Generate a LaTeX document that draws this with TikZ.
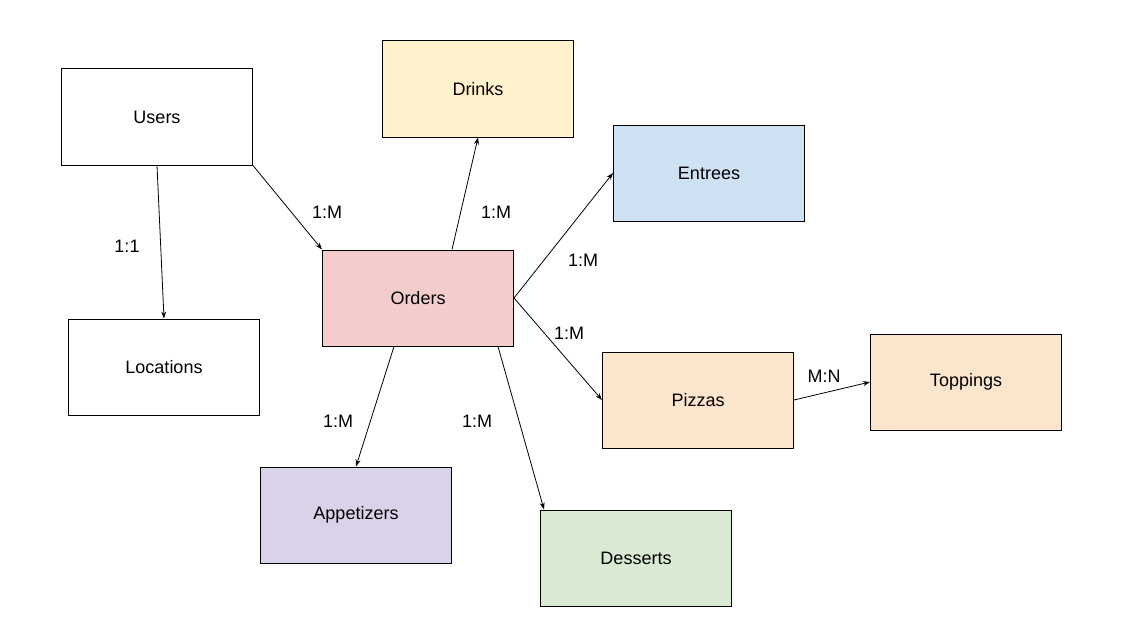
\documentclass[tikz,border=0pt]{standalone}
\usepackage{fontspec}
\setmainfont{Liberation Sans}
\usetikzlibrary{arrows.meta}
\definecolor{orderred}{HTML}{F4CCCC}
\definecolor{drinkyellow}{HTML}{FFF2CC}
\definecolor{entreeblue}{HTML}{CFE2F3}
\definecolor{pizzaorange}{HTML}{FCE5CD}
\definecolor{appetizerpurple}{HTML}{D9D2E9}
\definecolor{dessertgreen}{HTML}{D9EAD3}
\tikzset{
  entity/.style={draw=black, line width=1pt, minimum width=191pt, minimum height=96pt, inner sep=0pt},
  rel/.style={-{Stealth[length=7pt, width=5pt]}, line width=0.8pt},
  card/.style={inner sep=0pt}
}
\begin{document}
\begin{tikzpicture}[x=1pt, y=-1pt, font=\fontsize{18}{21}\selectfont]
\useasboundingbox (0,0) rectangle (1124,642);
% tables
\foreach \name/\x/\y/\col/\txt in {users/157/117/white/Users, locations/164/367/white/Locations,
    orders/418/298/orderred/Orders, drinks/478/89/drinkyellow/Drinks,
    entrees/709/173/entreeblue/Entrees, pizzas/698/400/pizzaorange/Pizzas,
    toppings/966/382/pizzaorange/Toppings, appetizers/356/515/appetizerpurple/Appetizers,
    desserts/636/558/dessertgreen/Desserts}
  \node[entity, fill=\col] (\name) at (\x, \y) {\txt};
% relations
\draw[rel] (users.south) -- (locations.north);
\draw[rel] (users.south east) -- (orders.north west);
\draw[rel] ([xshift=34pt]orders.north) -- (drinks.south);
\draw[rel] (orders.east) -- (entrees.west);
\draw[rel] (orders.east) -- (pizzas.west);
\draw[rel] ([xshift=-24pt]orders.south) -- (appetizers.north);
\draw[rel] ([xshift=80pt]orders.south) -- ([xshift=4pt]desserts.north west);
\draw[rel] (pizzas.east) -- (toppings.west);
% cardinalities
\foreach \x/\y/\c in {127/246/1:1, 327/212/1:M, 496/212/1:M, 583/260/1:M,
    569/333/1:M, 338/421/1:M, 477/421/1:M, 824/376/M:N}
  \node[card] at (\x, \y) {\c};
\end{tikzpicture}
\end{document}
